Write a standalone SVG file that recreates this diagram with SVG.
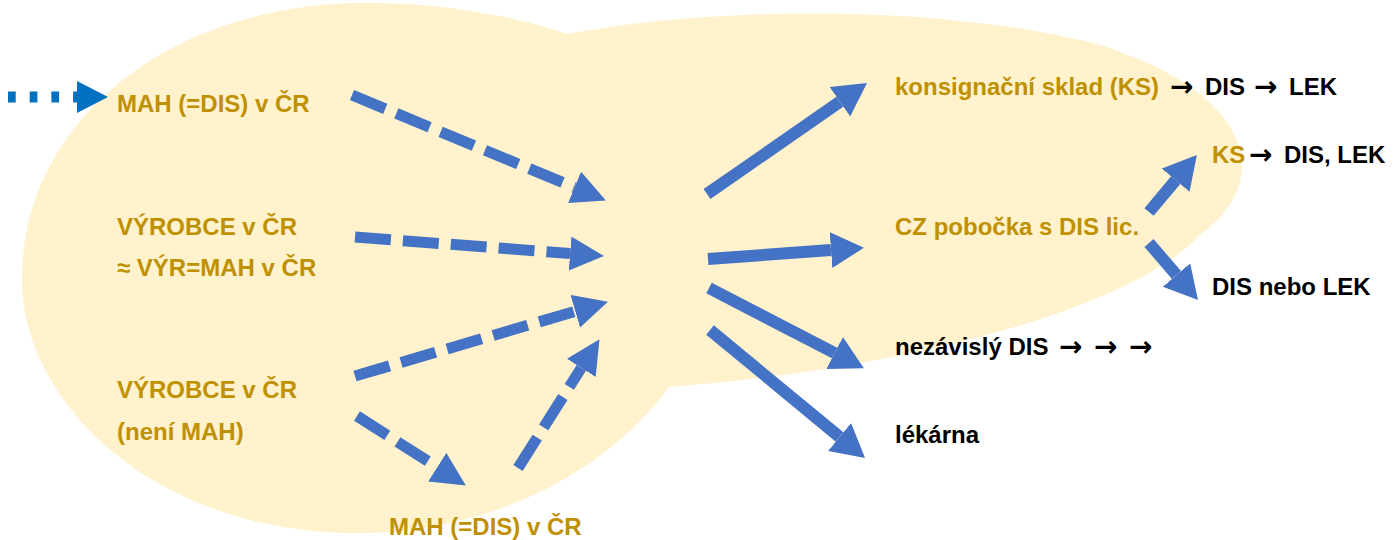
<svg xmlns="http://www.w3.org/2000/svg" width="1395" height="540" viewBox="0 0 1395 540">
<style>
  text { font-family: "Liberation Sans", Arial, sans-serif; font-weight: bold; font-size: 24px; }
  .g { fill: #BF9000; }
  .k { fill: #000000; }
  .arr { font-family: "DejaVu Sans", sans-serif; font-weight: bold; font-size: 28px; }
  .dash { stroke: #4472C4; stroke-width: 11; stroke-dasharray: 36 12; fill: none; marker-end: url(#headD); }
  .solid { stroke: #4472C4; stroke-width: 12; fill: none; marker-end: url(#headS); }
</style>
<defs>
  <marker id="headD" markerUnits="userSpaceOnUse" markerWidth="40" markerHeight="40" refX="0" refY="17" orient="auto" viewBox="0 0 40 40">
    <path d="M0,0 L34,17 L0,34 Z" fill="#4472C4"/>
  </marker>
  <marker id="headS" markerUnits="userSpaceOnUse" markerWidth="40" markerHeight="40" refX="0" refY="18" orient="auto" viewBox="0 0 40 40">
    <path d="M0,0 L33,18 L0,36 Z" fill="#4472C4"/>
  </marker>
</defs>

<g id="blob">
  <path d="M567,34 C720,5 950,5 1100,45 C1245,90 1280,175 1200,235 C1130,310 900,370 669,387 C600,480 480,535 350,533 C150,530 22,400 22,280 C22,120 170,5 360,3 C440,2 510,15 567,34 Z" fill="#FFF2CC"/>
</g>

<g id="connectors">
  <line x1="8" y1="97" x2="78" y2="97" stroke="#0070C0" stroke-width="11" stroke-dasharray="7.7 14"/>
  <polygon points="77,81 108,97 77,113" fill="#0070C0"/>
  <line class="dash" x1="352" y1="95" x2="574.5" y2="187.4"/>
  <line class="dash" x1="355" y1="237" x2="570.1" y2="253.5"/>
  <line class="dash" x1="355" y1="376" x2="575.3" y2="311.3"/>
  <line class="dash" x1="357" y1="416" x2="437.2" y2="467.2"/>
  <line class="dash" x1="518" y1="468" x2="581.3" y2="367.9"/>
  <line class="solid" x1="707" y1="194" x2="839.9" y2="101.8"/>
  <line class="solid" x1="708" y1="259" x2="831" y2="250.1"/>
  <line class="solid" x1="709" y1="288" x2="834.6" y2="353"/>
  <line class="solid" x1="710" y1="330" x2="839.6" y2="437"/>
  <line class="solid" x1="1149" y1="212" x2="1175.7" y2="180.2"/>
  <line class="solid" x1="1149" y1="243" x2="1176.5" y2="275"/>
</g>

<g id="mah-top"><text class="g" x="117" y="112">MAH (=DIS) v ČR</text></g>
<g id="vyrobce1">
  <text class="g" x="117" y="235">VÝROBCE v ČR</text>
  <text class="g" x="117" y="276">≈ VÝR=MAH v ČR</text>
</g>
<g id="vyrobce2">
  <text class="g" x="117" y="398">VÝROBCE v ČR</text>
  <text class="g" x="117" y="440">(není MAH)</text>
</g>
<g id="mah-bottom"><text class="g" x="389" y="535">MAH (=DIS) v ČR</text></g>

<g id="ks">
  <text class="g" x="895" y="95">konsignační sklad (KS)</text>
  <text class="k arr" x="1170" y="96">→</text>
  <text class="k" x="1205" y="95">DIS</text>
  <text class="k arr" x="1254" y="96">→</text>
  <text class="k" x="1289" y="95">LEK</text>
</g>
<g id="ks2">
  <text class="g" x="1212" y="163">KS</text>
  <text class="k arr" x="1249" y="164">→</text>
  <text class="k" x="1284" y="163">DIS, LEK</text>
</g>
<g id="pobocka"><text class="g" x="895" y="235">CZ pobočka s DIS lic.</text></g>
<g id="dis-lek"><text class="k" x="1212" y="295">DIS nebo LEK</text></g>
<g id="nezavisly">
  <text class="k" x="895" y="355">nezávislý DIS</text>
  <text class="k arr" x="1059" y="356">→</text>
  <text class="k arr" x="1094" y="356">→</text>
  <text class="k arr" x="1129" y="356">→</text>
</g>
<g id="lekarna"><text class="k" x="895" y="443">lékárna</text></g>
</svg>
